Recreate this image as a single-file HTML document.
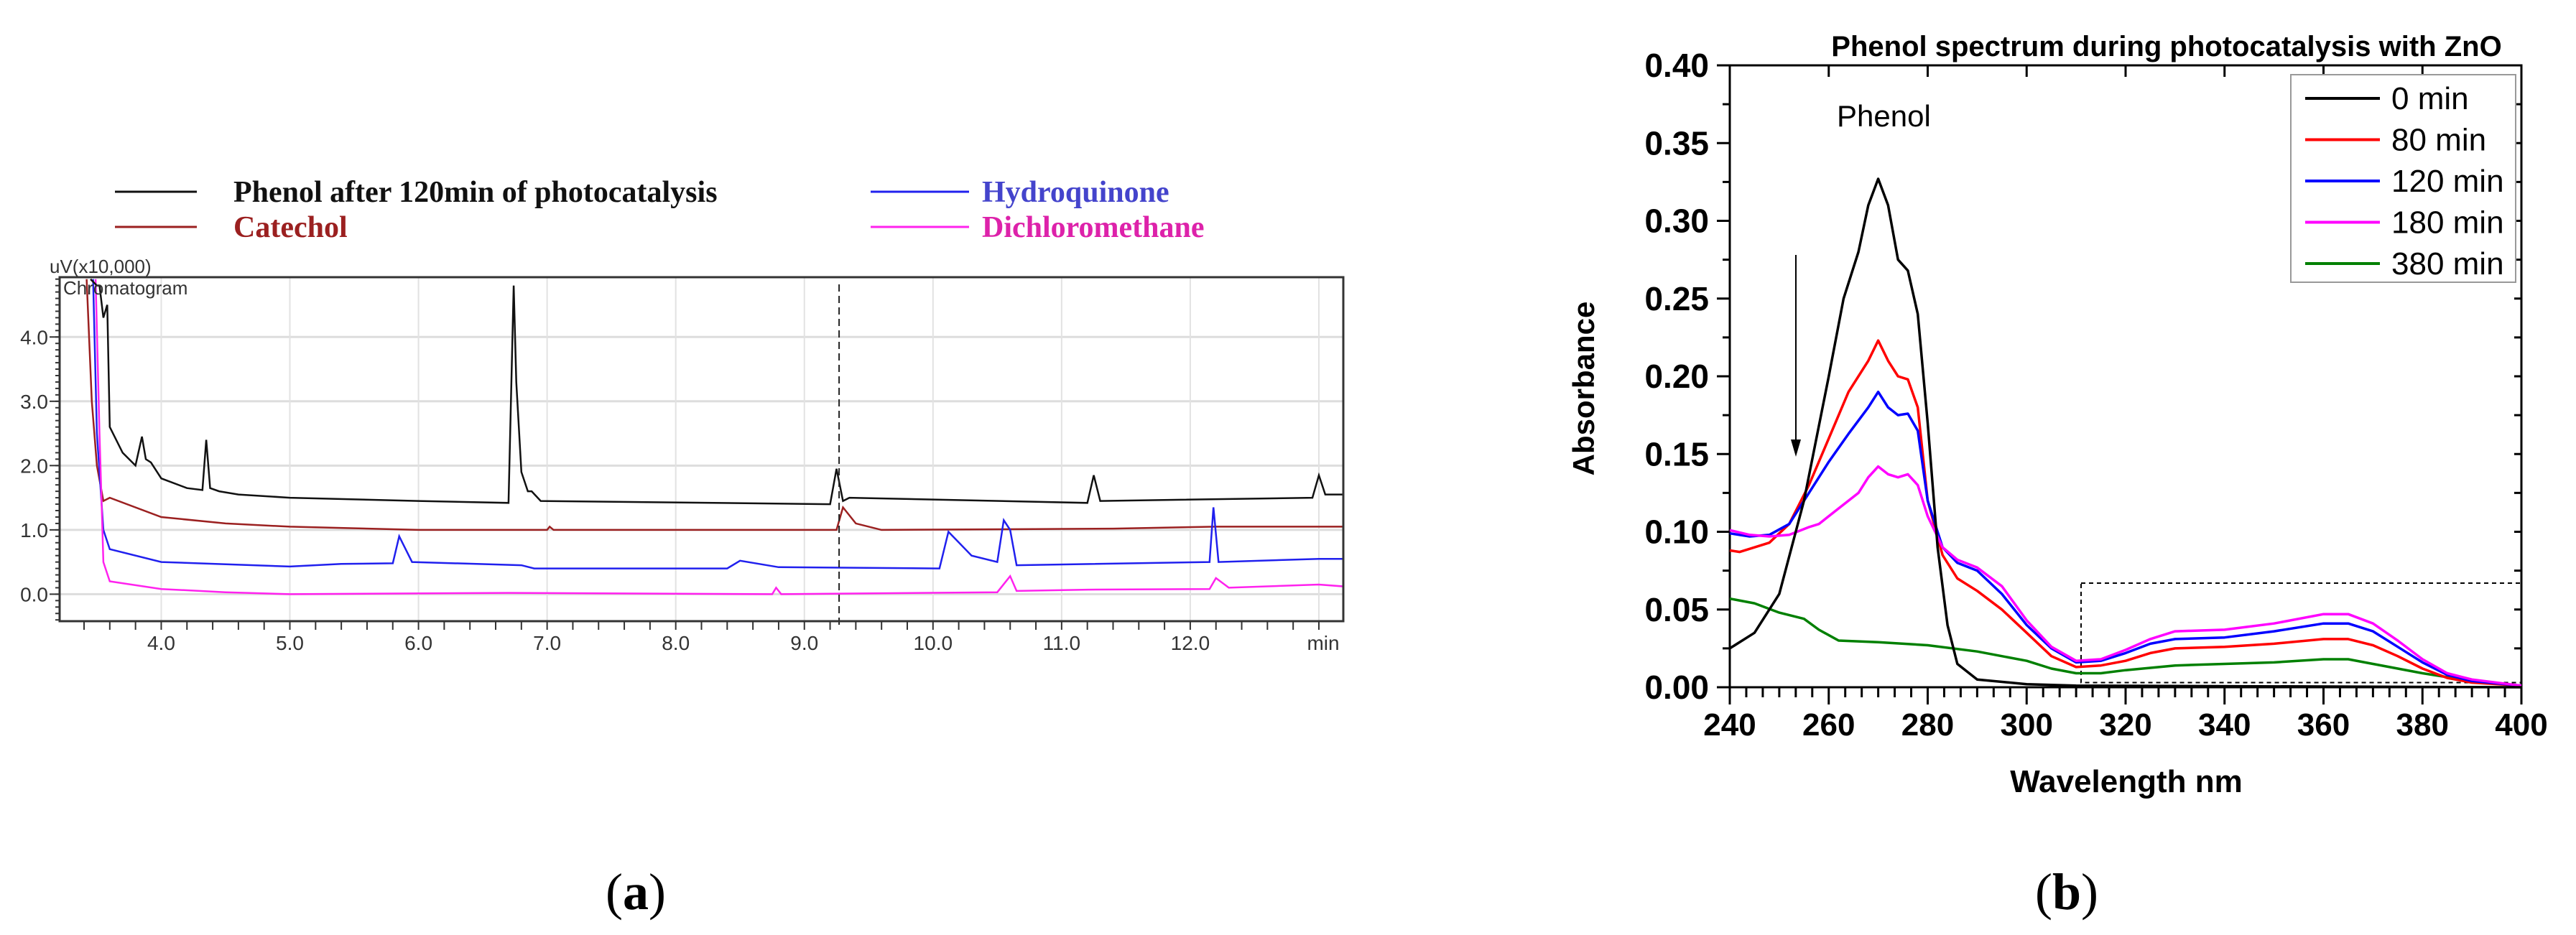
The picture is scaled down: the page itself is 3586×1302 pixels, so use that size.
<!DOCTYPE html>
<html><head><meta charset="utf-8"><style>
html,body{margin:0;padding:0;background:#fff;}
svg{display:block;}
</style></head><body>
<svg id="fig" width="3586" height="1302" viewBox="0 0 3586 1302" xmlns="http://www.w3.org/2000/svg">
<rect width="3586" height="1302" fill="#fff"/>
<g id="left"></g>
<g id="right"></g>
<text x="885" y="1266" font-family="Liberation Serif, serif" font-size="72" text-anchor="middle">(<tspan font-weight="bold">a</tspan>)</text>
<text x="2877" y="1266" font-family="Liberation Serif, serif" font-size="72" text-anchor="middle">(<tspan font-weight="bold">b</tspan>)</text>
</svg>
<script>
// ---------- Chromatogram data ----------
const chromSeriesNames = ["Phenol after 120min of   photocatalysis","Catechol","Hydroquinone","Dichloromethane"];
const chromColors = ["#111111","#9b2020","#2020ee","#ff22ee"];
const phenolT = [3.45,3.5,3.52,3.55,3.58,3.6,3.7,3.8,3.85,3.88,3.92,4.0,4.2,4.32,4.35,4.38,4.45,4.6,5.0,6.0,6.7,6.74,6.76,6.8,6.85,6.88,6.95,9.2,9.25,9.3,9.35,11.2,11.25,11.3,12.95,13.0,13.05,13.2];
const phenolV = [4.9,4.8,4.8,4.3,4.5,2.6,2.2,2.0,2.45,2.1,2.05,1.8,1.65,1.62,2.4,1.65,1.6,1.55,1.5,1.45,1.42,4.8,3.3,1.9,1.6,1.6,1.45,1.4,1.95,1.45,1.5,1.42,1.85,1.45,1.5,1.85,1.55,1.55];
const catecholT = [3.42,3.46,3.5,3.55,3.6,4.0,4.5,5.0,6.0,7.0,7.02,7.05,9.25,9.3,9.4,9.6,11.4,12.2,13.2];
const catecholV = [4.9,3.0,2.0,1.45,1.5,1.2,1.1,1.05,1.0,1.0,1.05,1.0,1.0,1.35,1.1,1.0,1.02,1.05,1.05];
const hydroT = [3.47,3.5,3.55,3.6,4.0,5.0,5.4,5.8,5.85,5.95,6.8,6.9,8.4,8.5,8.8,10.05,10.12,10.3,10.5,10.55,10.6,10.65,12.15,12.18,12.22,13.0,13.2];
const hydroV = [4.9,2.5,1.0,0.7,0.5,0.43,0.47,0.48,0.9,0.5,0.45,0.4,0.4,0.52,0.42,0.4,0.97,0.6,0.5,1.15,1.0,0.45,0.5,1.35,0.5,0.55,0.55];
const dcmT = [3.49,3.52,3.55,3.6,4.0,4.5,5.0,6.7,8.75,8.78,8.82,10.5,10.6,10.65,11.2,12.15,12.2,12.3,13.0,13.2];
const dcmV = [4.9,2.5,0.5,0.2,0.08,0.03,0.0,0.02,0.0,0.1,0.0,0.03,0.28,0.05,0.07,0.08,0.25,0.1,0.15,0.12];
const chromYTicks = ["0.0","1.0","2.0","3.0","4.0"];
const chromXTicks = ["4.0","5.0","6.0","7.0","8.0","9.0","10.0","11.0","12.0"];

// ---------- Spectrum data ----------
const specNames = ["0 min","80 min","120 min","180 min","380 min"];
const specColors = ["#000000","#ff0000","#0000ff","#ff00ff","#008000"];
const w0 = [240,245,250,255,260,263,266,268,270,272,274,276,278,280,282,284,286,290,300,310,400];
const a0 = [0.025,0.035,0.06,0.12,0.2,0.25,0.28,0.31,0.327,0.31,0.275,0.268,0.24,0.17,0.09,0.04,0.015,0.005,0.002,0.001,0.0];
const w80 = [240,242,248,252,256,260,264,268,270,272,274,276,278,280,283,286,290,295,300,305,310,315,320,325,330,340,350,360,365,370,375,380,385,390,400];
const a80 = [0.088,0.087,0.093,0.105,0.13,0.16,0.19,0.21,0.223,0.21,0.2,0.198,0.18,0.12,0.085,0.07,0.062,0.05,0.035,0.02,0.013,0.014,0.017,0.022,0.025,0.026,0.028,0.031,0.031,0.027,0.02,0.012,0.006,0.003,0.001];
const w120 = [240,244,248,252,256,260,264,268,270,272,274,276,278,280,283,286,290,295,300,305,310,315,320,325,330,340,350,360,365,370,375,380,385,390,400];
const a120 = [0.099,0.097,0.098,0.105,0.125,0.145,0.163,0.18,0.19,0.18,0.175,0.176,0.165,0.12,0.09,0.08,0.075,0.06,0.04,0.025,0.016,0.017,0.022,0.028,0.031,0.032,0.036,0.041,0.041,0.036,0.026,0.016,0.008,0.004,0.001];
const w180 = [240,244,248,252,256,258,262,266,268,270,272,274,276,278,280,283,286,290,295,300,305,310,315,320,325,330,340,350,360,365,370,375,380,385,390,400];
const a180 = [0.101,0.098,0.097,0.098,0.103,0.105,0.115,0.125,0.135,0.142,0.137,0.135,0.137,0.13,0.11,0.09,0.082,0.077,0.065,0.043,0.026,0.017,0.018,0.024,0.031,0.036,0.037,0.041,0.047,0.047,0.041,0.03,0.018,0.009,0.005,0.001];
const w380 = [240,245,250,255,258,262,270,280,290,300,305,310,315,320,330,340,350,360,365,370,380,390,400];
const a380 = [0.057,0.054,0.048,0.044,0.037,0.03,0.029,0.027,0.023,0.017,0.012,0.009,0.009,0.011,0.014,0.015,0.016,0.018,0.018,0.015,0.009,0.004,0.001];
const specYTicks = ["0.00","0.05","0.10","0.15","0.20","0.25","0.30","0.35","0.40"];
const specXTicks = ["240","260","280","300","320","340","360","380","400"];

const NS="http://www.w3.org/2000/svg";
function mk(parent,tag,attrs,text){const e=document.createElementNS(NS,tag);for(const k in attrs)e.setAttribute(k,attrs[k]);if(text!==undefined)e.textContent=text;parent.appendChild(e);return e;}

// ===== Left chart =====
const L=document.getElementById('left');
const lx0=83,lx1=1870,ly0=386,ly1=865;
const lxmin=3.21,lxmax=13.19,lymin=-0.42,lymax=4.93;
const lx=v=>lx0+(v-lxmin)/(lxmax-lxmin)*(lx1-lx0);
const ly=v=>ly1-(v-lymin)/(lymax-lymin)*(ly1-ly0);
// legend
const legY=[267,316,267,316], legX=[160,160,1212,1212], legTX=[325,325,1367,1367];
const legC=["#111111","#9b2020","#4444cc","#dd22aa"];
for(let i=0;i<4;i++){
  const g=mk(L,'g',{});
  
  
  mk(g,'line',{x1:legX[i],x2:legX[i]+(i<2?114:137),y1:legY[i],y2:legY[i],stroke:chromColors[i],'stroke-width':3});
  mk(g,'text',{x:legTX[i],y:legY[i]+14,'font-family':'Liberation Serif, serif','font-size':42,'font-weight':'bold',fill:i==0?'#111':legC[i]},chromSeriesNames[i]);
}
// grid
for(let v=0;v<=4;v++){const gl=mk(L,'line',{x1:lx0,x2:lx1,y1:ly(v),y2:ly(v),stroke:'#dddddd','stroke-width':3});}
for(let v=4;v<=13;v++){const gl=mk(L,'line',{x1:lx(v),x2:lx(v),y1:ly0,y2:ly1,stroke:'#e2e2e2','stroke-width':2});}
// clip
const defs=mk(document.getElementById('fig'),'defs',{});
const cp=mk(defs,'clipPath',{id:'lclip'});mk(cp,'rect',{x:lx0,y:ly0,width:lx1-lx0,height:ly1-ly0});
const series=[[phenolT,phenolV],[catecholT,catecholV],[hydroT,hydroV],[dcmT,dcmV]];
const order=[1,2,3,0];
order.forEach(i=>{
  const [T,V]=series[i];
  const d=T.map((t,j)=>(j?'L':'M')+lx(t).toFixed(1)+','+ly(V[j]).toFixed(1)).join('');
  const p=mk(L,'path',{d:d,fill:'none',stroke:chromColors[i],'stroke-width':2.5,'clip-path':'url(#lclip)'});
  
  
});
// dashed marker
const dm=mk(L,'line',{x1:lx(9.27),x2:lx(9.27),y1:ly0+10,y2:ly1+10,stroke:'#222','stroke-width':2,'stroke-dasharray':'10,6'});


// frame
const lf=mk(L,'rect',{x:lx0,y:ly0,width:lx1-lx0,height:ly1-ly0,fill:'none',stroke:'#333','stroke-width':3});


// y ticks
for(let v=-0.4;v<=4.9;v+=0.1){mk(L,'line',{x1:lx0-6,x2:lx0,y1:ly(v),y2:ly(v),stroke:'#333','stroke-width':2});}
chromYTicks.forEach((s,i)=>{
  mk(L,'line',{x1:lx0-14,x2:lx0,y1:ly(+s),y2:ly(+s),stroke:'#333','stroke-width':2});
  const t=mk(L,'text',{x:lx0-16,y:ly(+s)+10,'text-anchor':'end','font-family':'Liberation Sans, sans-serif','font-size':28,fill:'#333'},s);
  
  
});
for(let v=3.4;v<=13.15;v+=0.2){mk(L,'line',{x1:lx(v),x2:lx(v),y1:ly1,y2:ly1+12,stroke:'#333','stroke-width':2});}
chromXTicks.forEach(s=>{
  const t=mk(L,'text',{x:lx(+s),y:905,'text-anchor':'middle','font-family':'Liberation Sans, sans-serif','font-size':28,fill:'#333'},s);
  
  
});
const mn=mk(L,'text',{x:1842,y:905,'text-anchor':'middle','font-family':'Liberation Sans, sans-serif','font-size':28,fill:'#333'},'min');


const yu=mk(L,'text',{x:69,y:380,'font-family':'Liberation Sans, sans-serif','font-size':26,fill:'#333'},'uV(x10,000)');


const ct=mk(L,'text',{x:88,y:410,'font-family':'Liberation Sans, sans-serif','font-size':26,fill:'#333'},'Chromatogram');



// ===== Right chart =====
const R=document.getElementById('right');
const rx0=2408,rx1=3510,ry0=91,ry1=957;
const rx=v=>rx0+(v-240)/160*(rx1-rx0);
const ry=v=>ry1-v/0.4*(ry1-ry0);
const rf=mk(R,'rect',{x:rx0,y:ry0,width:rx1-rx0,height:ry1-ry0,fill:'none',stroke:'#000','stroke-width':3});


for(let v=240;v<=400.01;v+=20/6){const big=Math.abs((v-240)/20-Math.round((v-240)/20))<0.01;mk(R,'line',{x1:rx(v),x2:rx(v),y1:ry1,y2:ry1+(big?24:14),stroke:'#000','stroke-width':3});}
for(let v=240;v<=400;v+=20){mk(R,'line',{x1:rx(v),x2:rx(v),y1:ry0,y2:ry0+16,stroke:'#000','stroke-width':3});}
for(let v=0;v<=0.4001;v+=0.025){const big=Math.abs(v*20-Math.round(v*20))<0.01;mk(R,'line',{x1:rx0-(big?18:10),x2:rx0,y1:ry(v),y2:ry(v),stroke:'#000','stroke-width':3});mk(R,'line',{x1:rx1-10,x2:rx1,y1:ry(v),y2:ry(v),stroke:'#000','stroke-width':3});}
specYTicks.forEach(s=>{
  const t=mk(R,'text',{x:2379,y:ry(+s)+16,'text-anchor':'end','font-family':'Liberation Sans, sans-serif','font-size':46,'font-weight':'bold'},s);
  
  
});
specXTicks.forEach(s=>{
  const t=mk(R,'text',{x:rx(+s),y:1024,'text-anchor':'middle','font-family':'Liberation Sans, sans-serif','font-size':44,'font-weight':'bold'},s);
  
  
});
const xt=mk(R,'text',{x:2960,y:1103,'text-anchor':'middle','font-family':'Liberation Sans, sans-serif','font-size':44,'font-weight':'bold'},'Wavelength nm');


const yt=mk(R,'text',{x:2219,y:541,'text-anchor':'middle','font-family':'Liberation Sans, sans-serif','font-size':42,'font-weight':'bold',transform:'rotate(-90 2219 541)'},'Absorbance');


const tt=mk(R,'text',{x:3016,y:78,'text-anchor':'middle','font-family':'Liberation Sans, sans-serif','font-size':40,'font-weight':'bold'},'Phenol spectrum during photocatalysis with ZnO');


const ph=mk(R,'text',{x:2557,y:176,'font-family':'Liberation Sans, sans-serif','font-size':42},'Phenol');


const ar=mk(R,'line',{x1:2500,x2:2500,y1:355,y2:625,stroke:'#000','stroke-width':2});


mk(R,'path',{d:'M2493,612 L2500,636 L2507,612 Z',fill:'#000'});
const db=mk(R,'rect',{x:rx(311),y:ry(0.067),width:rx(400)-rx(311),height:ry(0.003)-ry(0.067),fill:'none',stroke:'#000','stroke-width':2,'stroke-dasharray':'6,5'});


const specW=[w0,w80,w120,w180,w380], specA=[a0,a80,a120,a180,a380];
[4,1,2,3,0].forEach(i=>{
  const d=specW[i].map((w,j)=>(j?'L':'M')+rx(w).toFixed(1)+','+ry(specA[i][j]).toFixed(1)).join('');
  const p=mk(R,'path',{d:d,fill:'none',stroke:specColors[i],'stroke-width':3.5,'stroke-linejoin':'round'});
  
  
});
// legend
const lb=mk(R,'rect',{x:3189,y:104,width:313,height:289,fill:'#fff',stroke:'#999','stroke-width':2});


specNames.forEach((s,i)=>{
  const y=137+i*57.5;
  const g=mk(R,'g',{});
  
  
  mk(g,'line',{x1:3209,x2:3313,y1:y,y2:y,stroke:specColors[i],'stroke-width':4});
  mk(g,'text',{x:3329,y:y+15,'font-family':'Liberation Sans, sans-serif','font-size':44},s);
});
</script>
</body></html>
